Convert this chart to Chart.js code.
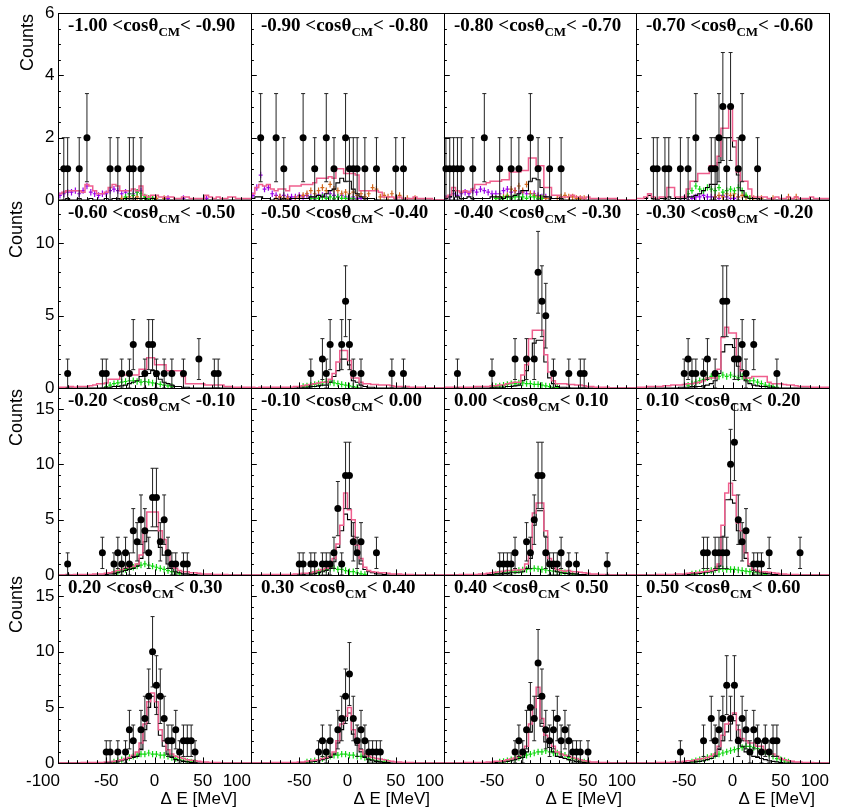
<!DOCTYPE html>
<html>
<head>
<meta charset="utf-8">
<script src="https://cdn.jsdelivr.net/npm/chart.js@4.4.0/dist/chart.umd.min.js"></script>
<style>
  body { margin: 0; background: #fff; }
  #wrap { position: relative; width: 848px; height: 809px; }
  #wrap canvas { position: absolute; left: 0; top: 0; }
</style>
</head>
<body>
<div id="wrap"></div>
<script>
/* cos(theta_CM) bin edges, one panel per bin */
const cosEdges = ["-1.00","-0.90","-0.80","-0.70","-0.60","-0.50","-0.40","-0.30","-0.20",
                  "-0.10","0.00","0.10","0.20","0.30","0.40","0.50","0.60"];

/* Delta E axis, 4 MeV bins */
const xMin = -100, xMax = 100, binW = 4;
const xTickVals = [-100, -50, 0, 50, 100];
const xTickLabels = ["-100", "-50", "0", "50", "100"];

/* y range per row */
const rowYMax = [6, 13, 16.9, 16.9];
const rowYMajor = [2, 5, 5, 5];
const rowYMinor = [0.5, 1, 1, 1];
const yTickLabels = [["0","2","4","6"], ["0","5","10"], ["0","5","10","15"], ["0","5","10","15"]];

/* data points: bin centre (MeV) and counts */
const dataX = [
  [-94,-90,-78,-70,-46,-38,-26,-22,-14],
  [-90,-74,-66,-46,-34,-22,-14,-2,2,6,10,18,30,50,58],
  [-98,-94,-90,-86,-82,-70,-58,-42,-30,-22,-10,-2,10,22],
  [-82,-78,-70,-66,-54,-46,-38,-22,-18,-14,-10,-6,-2,6,10,26],
  [-90,-54,-50,-34,-26,-22,-10,-6,-2,2,10,18,30,46,62,66],
  [-38,-26,-22,-18,-6,-2,2,6,14,46,58],
  [-86,-50,-26,-14,-6,-2,2,6,14,30,42,46],
  [-50,-46,-42,-38,-30,-26,-18,-10,-6,2,6,10,14,22,46],
  [-90,-54,-42,-38,-34,-30,-26,-22,-18,-14,-10,-6,-2,2,6,10,14,18,22,30,34],
  [-50,-46,-38,-34,-26,-22,-18,-14,-10,-6,-2,2,6,10,14,30],
  [-42,-38,-34,-30,-26,-14,-10,-6,-2,2,6,10,14,18,22,30,38,70],
  [-30,-26,-18,-14,-10,-6,-2,2,6,10,14,22,26,30,38,70],
  [-50,-46,-38,-30,-26,-22,-14,-10,-6,-2,2,6,10,14,18,22,26,30,34,38,42],
  [-30,-26,-22,-18,-10,-6,-2,2,6,10,14,18,22,26,30,34],
  [-26,-22,-18,-14,-10,-6,-2,2,6,10,14,18,22,26,30,34,38,42,50],
  [-54,-30,-22,-18,-14,-10,-6,-2,2,6,10,14,18,22,26,30,34,38,42,46]
];
const dataN = [
  [1,1,1,2,1,1,1,1,1],
  [2,2,1,2,1,2,1,2,1,1,1,1,1,1,1],
  [1,1,1,1,1,1,2,1,1,1,2,1,1,1],
  [1,1,1,1,1,1,2,1,1,2,3,1,3,1,2,1],
  [1,1,1,1,1,3,1,3,3,1,1,1,1,2,1,1],
  [1,2,1,3,3,6,3,1,1,1,1],
  [1,1,2,2,2,8,6,5,1,1,1,1],
  [1,2,1,1,1,2,1,6,6,2,2,3,1,3,1],
  [1,2,1,2,1,2,1,4,3,5,4,2,7,7,3,5,2,1,1,1,1],
  [1,1,1,1,1,1,1,2,6,1,9,9,3,2,3,2],
  [1,1,1,1,2,3,2,5,9,9,2,1,1,1,2,1,1,1],
  [2,2,2,2,2,2,10,12,5,3,4,1,1,1,2,2],
  [1,1,1,1,3,2,3,4,6,10,7,6,4,2,2,3,1,2,2,2,1],
  [1,2,1,2,3,4,6,8,4,2,3,2,1,1,1,1],
  [1,2,1,3,5,4,9,6,3,2,3,4,2,3,2,1,1,1,1],
  [1,2,4,2,3,4,7,4,7,2,4,3,1,3,2,1,2,1,2,2]
];

/* simulation histograms, 50 bins from -100 to 100 MeV */
const pinkHist = [
  [0.2,0.25,0.3,0.3,0.3,0.3,0.25,0.5,0.45,0.3, 0.2,0.2,0.25,0.4,0.5,0.45,0.3,0.3,0.3,0.35, 0.3,0.45,0.15,0.1,0.15,0.15,0.1,0.1,0.1,0.1, 0.05,0.05,0.1,0.1,0.05,0.05,0.05,0.05,0.15,0.1, 0.05,0.1,0.05,0.05,0.1,0.1,0.05,0.05,0.05,0.05],
  [0.2,0.4,0.5,0.45,0.5,0.35,0.3,0.35,0.35,0.3, 0.45,0.45,0.45,0.5,0.5,0.5,0.55,0.7,0.7,0.7, 0.75,0.7,1.0,1.0,0.85,0.85,0.85,0.8,0.3,0.3, 0.3,0.3,0.3,0.25,0.1,0.1,0.1,0.05,0.1,0.05, 0.05,0.05,0.1,0.05,0.05,0.05,0.05,0,0,0],
  [0.1,0.15,0.4,0.3,0.25,0.3,0.25,0.35,0.5,0.5, 0.5,0.55,0.6,0.6,0.6,0.65,0.65,0.9,0.9,0.9, 0.95,0.95,1.35,1.35,1.1,1.1,0.4,0.4,0.15,0.15, 0.1,0.1,0.1,0.15,0.1,0.1,0.05,0.1,0.05,0.05, 0.05,0.05,0.05,0.05,0.05,0,0,0,0,0],
  [0.05,0.05,0.1,0.2,0.1,0.05,0.1,0.1,0.4,0.4, 0.1,0.1,0.1,0.35,0.6,0.6,0.85,0.85,0.85,1.1, 1.1,1.4,2.3,2.3,3.0,1.9,0.9,0.6,0.6,0.35, 0.1,0.1,0.1,0.1,0.05,0.05,0.1,0.05,0.05,0.1, 0.05,0.1,0.05,0.05,0.05,0.1,0.05,0.05,0.05,0.05],
  [0.05,0.05,0.05,0.1,0.05,0.1,0.1,0.1,0.15,0.2, 0.3,0.3,0.35,0.6,0.6,0.6,0.9,0.9,0.9,0.9, 0.9,1.3,1.3,2.1,2.1,1.6,1.6,1.6,1.2,1.2, 1.2,1.2,0.8,0.3,0.3,0.3,0.3,0.3,0.2,0.2, 0.2,0.2,0.2,0.1,0.1,0.05,0.05,0.05,0.05,0.05],
  [0.05,0,0.05,0.05,0.05,0.05,0.05,0.05,0.05,0.05, 0.05,0.1,0.1,0.15,0.2,0.25,0.3,0.35,0.4,0.4, 0.6,1.0,1.8,2.6,2.6,1.9,0.7,0.7,0.4,0.3, 0.3,0.25,0.25,0.2,0.2,0.2,0.15,0.1,0.1,0.1, 0.1,0.05,0.05,0.05,0.05,0,0,0,0,0],
  [0.05,0.05,0.05,0.05,0.05,0.05,0.05,0.05,0.1,0.1, 0.1,0.1,0.15,0.15,0.2,0.2,0.3,0.35,0.4,0.4, 0.9,1.6,3.4,4.0,4.0,4.0,2.3,1.1,0.5,0.3, 0.3,0.3,0.25,0.25,0.2,0.2,0.15,0.1,0.1,0.05, 0.05,0.05,0.05,0,0,0,0,0,0,0],
  [0.05,0.05,0.05,0.1,0.1,0.1,0.1,0.15,0.15,0.2, 0.2,0.2,0.25,0.3,0.3,0.35,0.4,0.5,0.7,0.7, 0.7,1.3,3.5,4.2,3.8,3.8,2.0,1.2,0.7,0.7, 0.8,0.8,0.8,0.8,0.4,0.3,0.3,0.3,0.25,0.2, 0.2,0.15,0.1,0.1,0.1,0.05,0.05,0.05,0.05,0.05],
  [0,0,0.05,0,0.05,0.05,0.05,0.05,0.05,0.1, 0.1,0.1,0.15,0.2,0.3,0.4,0.5,0.6,0.7,0.8, 1.0,1.8,3.8,5.7,5.7,5.7,4.0,3.2,2.0,1.2, 0.6,0.4,0.3,0.3,0.2,0.2,0.15,0.1,0.1,0.1, 0.05,0.05,0.05,0.05,0,0,0,0,0,0],
  [0,0,0,0.05,0.05,0.05,0.05,0.05,0.05,0.05, 0.05,0.1,0.1,0.15,0.15,0.2,0.3,0.4,0.5,0.6, 0.8,1.5,2.8,4.5,7.4,5.9,5.0,2.7,1.5,0.7, 0.4,0.3,0.25,0.2,0.2,0.15,0.1,0.1,0.1,0.05, 0.05,0.05,0,0,0,0,0,0,0,0],
  [0,0,0,0,0.05,0.05,0.05,0.05,0.05,0.1, 0.1,0.15,0.2,0.25,0.3,0.35,0.4,0.4,0.45,0.45, 0.5,1.0,2.0,5.6,6.5,6.5,4.0,1.5,0.8,0.5, 0.4,0.35,0.4,0.3,0.3,0.25,0.2,0.15,0.1,0.1, 0.05,0.05,0.05,0,0,0,0,0,0,0],
  [0,0,0,0,0,0.05,0.05,0.05,0.05,0.05, 0.1,0.1,0.1,0.15,0.2,0.2,0.25,0.3,0.35,0.4, 0.5,1.0,4.5,7.4,8.3,7.2,4.7,4.0,2.0,1.0, 0.5,0.4,0.3,0.3,0.25,0.2,0.15,0.1,0.1,0.05, 0.05,0.05,0,0,0,0,0,0,0,0],
  [0,0,0,0,0,0,0.05,0.05,0.05,0.05, 0.05,0.05,0.1,0.1,0.15,0.2,0.3,0.4,0.5,0.7, 1.0,1.8,3.5,5.5,6.3,5.5,3.0,2.0,1.2,0.8, 0.6,0.5,0.4,0.3,0.25,0.2,0.15,0.1,0.1,0.05, 0.05,0.05,0,0,0,0,0,0,0,0],
  [0,0,0,0,0,0.05,0.05,0.05,0.05,0.05, 0.05,0.05,0.1,0.1,0.15,0.2,0.25,0.3,0.4,0.5, 0.6,1.0,2.0,3.5,4.2,5.0,3.0,2.0,1.2,0.8, 0.6,0.5,0.4,0.35,0.3,0.2,0.15,0.1,0.1,0.05, 0.05,0.05,0,0,0,0,0,0,0,0],
  [0,0,0,0,0,0.05,0.05,0.05,0.05,0.05, 0.05,0.1,0.1,0.15,0.15,0.2,0.3,0.35,0.45,0.6, 0.8,1.5,3.5,5.0,6.8,4.0,2.5,2.0,1.5,1.0, 0.8,0.7,0.6,0.5,0.4,0.3,0.2,0.15,0.1,0.1, 0.05,0.05,0.05,0,0,0,0,0,0,0],
  [0,0,0,0,0,0.05,0.05,0.05,0.05,0.1, 0.1,0.1,0.15,0.2,0.2,0.3,0.35,0.4,0.5,0.6, 0.8,1.5,2.5,3.5,4.2,4.5,3.0,2.2,2.0,1.8, 1.8,1.5,1.5,1.2,1.0,0.8,0.6,0.4,0.3,0.2, 0.15,0.1,0.1,0.05,0.05,0.05,0,0,0,0]
];

const blackHist = [
  [0,0,0.05,0,0,0.05,0,0,0.05,0, 0,0,0.05,0,0.05,0.05,0,0.05,0.05,0.05, 0.05,0.05,0.05,0,0.05,0,0,0,0,0, 0,0,0,0,0,0,0,0,0,0, 0,0,0,0,0,0,0,0,0,0],
  [0.05,0.1,0.1,0.05,0.05,0,0.05,0,0.05,0, 0.05,0.05,0.05,0.05,0.05,0.1,0.1,0.15,0.1,0.2, 0.3,0.35,0.55,0.7,0.6,0.6,0.35,0.2,0.1,0.05, 0.05,0.05,0,0,0,0,0,0,0,0, 0,0,0,0,0,0,0,0,0,0],
  [0.05,0.1,0.3,0.1,0.05,0.05,0.1,0.05,0.05,0.05, 0.05,0.05,0.1,0.1,0.1,0.05,0.1,0.1,0.15,0.2, 0.3,0.3,0.6,0.7,0.65,0.4,0.1,0.1,0.05,0.05, 0.05,0,0,0,0,0,0,0,0,0, 0,0,0,0,0,0,0,0,0,0],
  [0.05,0.05,0.05,0.15,0.05,0,0.05,0.05,0.1,0.05, 0.05,0.05,0.05,0.1,0.1,0.15,0.2,0.3,0.4,0.5, 0.5,1.2,2.0,2.0,2.0,1.7,0.8,0.3,0.1,0.05, 0.05,0.05,0,0,0,0,0,0,0,0, 0,0,0,0,0,0,0,0,0,0],
  [0,0,0,0,0,0,0,0,0,0, 0,0,0.05,0.05,0.1,0.1,0.15,0.2,0.3,0.4, 0.5,0.8,0.9,1.0,1.2,0.8,0.6,0.4,0.3,0.2, 0.1,0.1,0.05,0.05,0,0,0,0,0,0, 0,0,0,0,0,0,0,0,0,0],
  [0,0,0,0,0,0,0,0,0,0, 0,0,0.05,0.05,0.05,0.1,0.1,0.15,0.2,0.2, 0.4,0.8,1.2,2.0,2.0,1.6,0.5,0.4,0.2,0.1, 0.05,0.05,0,0,0,0,0,0,0,0, 0,0,0,0,0,0,0,0,0,0],
  [0,0,0,0,0,0,0,0,0,0, 0,0,0.05,0.05,0.05,0.05,0.1,0.1,0.15,0.2, 0.5,1.2,2.0,3.1,3.3,3.3,1.8,0.7,0.3,0.1, 0.05,0.05,0,0,0,0,0,0,0,0, 0,0,0,0,0,0,0,0,0,0],
  [0,0,0,0,0,0,0,0,0,0, 0,0.05,0.05,0.05,0.1,0.1,0.1,0.15,0.2,0.3, 0.5,1.0,2.5,3.0,3.0,2.8,1.5,0.8,0.5,0.3, 0.2,0.15,0.1,0.1,0.05,0.05,0,0,0,0, 0,0,0,0,0,0,0,0,0,0],
  [0,0,0,0,0,0,0,0,0,0, 0,0,0.05,0.1,0.15,0.2,0.3,0.4,0.5,0.6, 0.8,1.5,3.0,4.0,4.0,4.0,2.5,1.8,1.0,0.6, 0.3,0.2,0.1,0.1,0.05,0.05,0,0,0,0, 0,0,0,0,0,0,0,0,0,0],
  [0,0,0,0,0,0,0,0,0,0, 0,0,0.05,0.05,0.1,0.1,0.15,0.2,0.3,0.4, 0.6,1.2,2.5,4.0,5.5,5.0,3.5,2.0,1.0,0.5, 0.3,0.2,0.1,0.1,0.05,0,0,0,0,0, 0,0,0,0,0,0,0,0,0,0],
  [0,0,0,0,0,0,0,0,0,0, 0,0.05,0.05,0.1,0.1,0.15,0.15,0.2,0.2,0.25, 0.3,0.6,1.5,4.5,5.8,5.8,3.5,1.2,0.6,0.3, 0.2,0.15,0.15,0.1,0.1,0.05,0.05,0,0,0, 0,0,0,0,0,0,0,0,0,0],
  [0,0,0,0,0,0,0,0,0,0, 0,0,0.05,0.05,0.1,0.1,0.15,0.2,0.25,0.3, 0.4,0.8,3.5,6.8,6.8,6.5,4.0,3.0,1.5,0.8, 0.4,0.3,0.2,0.15,0.1,0.05,0.05,0,0,0, 0,0,0,0,0,0,0,0,0,0],
  [0,0,0,0,0,0,0,0,0,0, 0,0,0.05,0.05,0.1,0.15,0.2,0.3,0.4,0.5, 0.6,1.2,3.0,5.0,6.0,5.0,2.5,1.5,0.8,0.5, 0.3,0.2,0.15,0.1,0.05,0.05,0,0,0,0, 0,0,0,0,0,0,0,0,0,0],
  [0,0,0,0,0,0,0,0,0,0, 0,0,0.05,0.05,0.1,0.1,0.15,0.2,0.3,0.4, 0.5,0.8,1.8,3.0,3.8,4.5,2.6,1.6,1.0,0.5, 0.3,0.2,0.15,0.1,0.05,0.05,0,0,0,0, 0,0,0,0,0,0,0,0,0,0],
  [0,0,0,0,0,0,0,0,0,0, 0,0,0.05,0.05,0.1,0.1,0.15,0.2,0.3,0.4, 0.5,1.0,2.8,4.2,5.8,3.3,1.9,1.4,1.0,0.6, 0.5,0.4,0.3,0.2,0.15,0.1,0.05,0,0,0, 0,0,0,0,0,0,0,0,0,0],
  [0,0,0,0,0,0,0,0,0,0, 0,0,0.05,0.05,0.1,0.1,0.15,0.2,0.3,0.4, 0.6,1.2,2.0,2.8,3.5,3.8,2.3,1.5,1.0,0.8, 0.6,0.5,0.4,0.3,0.2,0.15,0.1,0.05,0,0, 0,0,0,0,0,0,0,0,0,0]
];

const greenHist = [
  [0,0,0,0,0,0,0,0,0,0, 0,0,0,0,0,0,0,0.1,0.2,0.15, 0.25,0.2,0.1,0.05,0.05,0,0,0,0,0, 0,0,0,0,0,0,0,0,0,0, 0,0,0,0,0,0,0,0,0,0],
  [0,0,0,0,0,0,0,0,0,0, 0,0,0,0,0,0.05,0.05,0.05,0.1,0.05, 0.1,0.05,0.1,0.05,0.05,0.05,0.05,0,0,0, 0,0,0,0,0,0,0,0,0,0, 0,0,0,0,0,0,0,0,0,0],
  [0,0,0,0,0,0,0,0,0,0, 0,0,0,0.05,0.05,0.05,0.1,0.05,0.1,0.1, 0.1,0.05,0.1,0.1,0.05,0.05,0,0,0,0, 0,0,0,0,0,0,0,0,0,0, 0,0,0,0,0,0,0,0,0,0],
  [0,0,0,0,0,0,0,0,0,0, 0,0,0,0.2,0.3,0.45,0.35,0.3,0.4,0.35, 0.3,0.4,0.25,0.3,0.35,0.3,0.4,0.3,0.15,0.05, 0,0,0,0,0,0,0,0,0,0, 0,0,0,0,0,0,0,0,0,0],
  [0,0,0,0,0,0,0,0,0,0, 0,0,0.1,0.2,0.3,0.35,0.4,0.45,0.5,0.5, 0.45,0.4,0.45,0.4,0.35,0.3,0.25,0.2,0.15,0.1, 0,0,0,0,0,0,0,0,0,0, 0,0,0,0,0,0,0,0,0,0],
  [0,0,0,0,0,0,0,0,0,0, 0,0,0,0.1,0.15,0.2,0.25,0.3,0.35,0.45, 0.4,0.35,0.3,0.25,0.2,0.15,0.1,0.05,0,0, 0,0,0,0,0,0,0,0,0,0, 0,0,0,0,0,0,0,0,0,0],
  [0,0,0,0,0,0,0,0,0,0, 0,0,0.05,0.1,0.15,0.2,0.25,0.3,0.3,0.35, 0.35,0.3,0.3,0.25,0.25,0.2,0.15,0.1,0.05,0.05, 0,0,0,0,0,0,0,0,0,0, 0,0,0,0,0,0,0,0,0,0],
  [0,0,0,0,0,0,0,0,0,0, 0,0,0,0.2,0.3,0.4,0.5,0.6,0.7,0.8, 0.9,0.8,0.9,0.8,0.9,0.8,0.7,0.8,0.6,0.5, 0.5,0.4,0.3,0.2,0.15,0.1,0.05,0,0,0, 0,0,0,0,0,0,0,0,0,0],
  [0,0,0,0,0,0,0,0,0,0, 0,0,0,0,0.2,0.3,0.4,0.5,0.6,0.7, 0.8,0.9,1.0,0.9,0.8,0.7,0.6,0.5,0.4,0.3, 0.2,0.1,0,0,0,0,0,0,0,0, 0,0,0,0,0,0,0,0,0,0],
  [0,0,0,0,0,0,0,0,0,0, 0,0,0,0,0,0.1,0.2,0.3,0.4,0.5, 0.6,0.6,0.5,0.5,0.4,0.3,0.3,0.2,0.1,0.05, 0,0,0,0,0,0,0,0,0,0, 0,0,0,0,0,0,0,0,0,0],
  [0,0,0,0,0,0,0,0,0,0, 0,0,0,0.1,0.15,0.2,0.25,0.3,0.35,0.4, 0.45,0.5,0.55,0.6,0.55,0.5,0.45,0.4,0.35,0.3, 0.25,0.2,0.15,0.1,0.05,0,0,0,0,0, 0,0,0,0,0,0,0,0,0,0],
  [0,0,0,0,0,0,0,0,0,0, 0,0,0,0,0.1,0.15,0.2,0.3,0.35,0.4, 0.5,0.5,0.55,0.5,0.5,0.5,0.45,0.4,0.35,0.3, 0.25,0.2,0.1,0.05,0,0,0,0,0,0, 0,0,0,0,0,0,0,0,0,0],
  [0,0,0,0,0,0,0,0,0,0, 0,0,0,0,0.1,0.2,0.3,0.4,0.5,0.6, 0.7,0.8,0.8,0.9,0.8,0.8,0.7,0.7,0.6,0.5, 0.4,0.3,0.2,0.15,0.1,0.05,0,0,0,0, 0,0,0,0,0,0,0,0,0,0],
  [0,0,0,0,0,0,0,0,0,0, 0,0,0,0,0.1,0.15,0.2,0.3,0.4,0.5, 0.6,0.7,0.7,0.8,0.8,0.7,0.7,0.6,0.6,0.5, 0.4,0.3,0.2,0.15,0.1,0.05,0,0,0,0, 0,0,0,0,0,0,0,0,0,0],
  [0,0,0,0,0,0,0,0,0,0, 0,0,0,0,0.1,0.15,0.2,0.3,0.4,0.5, 0.6,0.7,0.8,0.9,1.0,1.0,1.1,1.0,0.9,0.9, 0.8,0.7,0.5,0.4,0.3,0.2,0.1,0.05,0,0, 0,0,0,0,0,0,0,0,0,0],
  [0,0,0,0,0,0,0,0,0,0, 0,0,0,0,0.1,0.2,0.3,0.4,0.5,0.6, 0.7,0.8,0.9,1.0,1.1,1.2,1.3,1.4,1.5,1.5, 1.4,1.3,1.2,1.0,0.8,0.6,0.4,0.3,0.2,0.1, 0,0,0,0,0,0,0,0,0,0]
];

/* smaller background components, visible only in the first row */
const purpleHist = [
  [0.15,0.2,0.25,0.25,0.3,0.2,0.3,0.45,0.25,0.2, 0.15,0.2,0.2,0.3,0.35,0.3,0.2,0.25,0.2,0.2, 0.25,0.3,0.05,0,0.05,0,0,0,0.05,0, 0,0,0.05,0,0,0,0,0,0.05,0, 0,0,0,0,0,0,0,0,0,0],
  [0.15,0.4,0.8,0.35,0.4,0.2,0.15,0.1,0.15,0.1, 0.1,0.1,0.15,0.1,0.15,0.1,0.1,0.15,0.15,0.1, 0.2,0.15,0.1,0.15,0.1,0.05,0.1,0.05,0.05,0, 0,0,0,0,0,0,0,0,0,0, 0,0,0,0,0,0,0,0,0,0],
  [0.05,0.1,0.2,0.15,0.2,0.25,0.2,0.3,0.25,0.35, 0.3,0.25,0.2,0.2,0.2,0.3,0.35,0.25,0.3,0.2, 0.25,0.2,0.2,0.2,0.15,0.1,0.1,0,0,0, 0,0,0,0,0,0,0,0,0,0, 0,0,0,0,0,0,0,0,0,0],
  [0,0,0,0,0,0,0,0,0,0, 0,0,0.05,0.1,0.05,0.1,0.1,0.15,0.1,0.1, 0.1,0.05,0.15,0.1,0.05,0.05,0.1,0,0,0, 0,0,0,0,0,0,0,0,0,0, 0,0,0,0,0,0,0,0,0,0]
];
const orangeHist = [
  [0,0,0,0,0,0,0,0,0,0, 0,0,0,0,0,0,0.05,0.05,0.1,0.05, 0.1,0.05,0.05,0.05,0.05,0.05,0,0.05,0,0, 0,0,0,0,0,0,0,0,0,0, 0,0,0,0,0,0,0,0,0,0],
  [0,0,0,0,0,0,0.05,0.1,0.05,0.05, 0,0.05,0.1,0.15,0.2,0.3,0.2,0.3,0.4,0.3, 0.5,0.35,0.3,0.2,0.25,0.2,0.25,0.15,0.2,0.1, 0.2,0.4,0.35,0.1,0.15,0.1,0.2,0.05,0.15,0.05, 0.05,0,0.05,0,0,0,0,0,0,0],
  [0,0,0,0,0,0,0,0,0,0, 0,0,0,0.05,0.1,0.1,0.15,0.35,0.3,0.45, 0.3,0.5,0.2,0.15,0.1,0.05,0.05,0.05,0,0.05, 0.1,0.15,0.1,0.1,0.05,0.05,0.05,0,0,0, 0,0,0,0,0,0,0,0,0,0],
  [0,0,0,0,0,0,0,0,0,0, 0,0,0,0,0,0,0,0,0,0, 0.1,0.15,0.1,0.2,0.15,0.2,0.1,0.15,0.1,0.05, 0.05,0.05,0.05,0,0,0.05,0,0,0,0.1, 0,0.1,0,0,0,0,0,0,0,0]
];

/* panel grid in page pixels */
const colEdges = [58, 251, 444, 636, 829];
const rowEdges = [13, 200, 388, 575, 763];
const PAGE_W = 848, PAGE_H = 809;

const labelFont = '17px "Liberation Sans", Arial, sans-serif';
const titleFont = 'bold 19px "Liberation Serif", "Times New Roman", serif';
const subFont = 'bold 13px "Liberation Serif", "Times New Roman", serif';


/* ROOT-like frame, inward ticks, labels, panel title, cross markers, error bars */
const rootPanel = {
  id: "rootPanel",

  beforeDatasetsDraw(chart) {
    const o = chart.options.plugins.rootPanel;
    const { ctx, chartArea: a, scales: { x, y } } = chart;
    ctx.save();
    ctx.beginPath();
    ctx.rect(a.left, a.top, a.right - a.left, a.bottom - a.top);
    ctx.clip();
    ctx.lineWidth = 1.2;
    const k = o.panel;
    const crosses = [
      { color: "#9b00e8", values: purpleHist[k] || [] },
      { color: "#d2691e", values: orangeHist[k] || [] },
      { color: "#10d810", values: greenHist[k] || [] }
    ];
    crosses.forEach(c => {
      ctx.strokeStyle = c.color;
      c.values.forEach((v, i) => {
        if (!v) return;
        const x0 = x.getPixelForValue(xMin + i * binW);
        const x1 = x.getPixelForValue(xMin + (i + 1) * binW);
        const xm = (x0 + x1) / 2;
        const py = y.getPixelForValue(v);
        ctx.beginPath();
        ctx.moveTo(x0, py); ctx.lineTo(x1, py);
        ctx.moveTo(xm, py - 3.2); ctx.lineTo(xm, py + 3.2);
        ctx.stroke();
      });
    });
    ctx.restore();
  },

  beforeDatasetDraw(chart, args) {
    if (args.index !== 0) return;
    const { ctx, scales: { y } } = chart;
    const ds = chart.data.datasets[0];
    ctx.save();
    ctx.strokeStyle = "#222";
    ctx.lineWidth = 1;
    args.meta.data.forEach((pt, i) => {
      const n = ds.data[i].y, e = Math.sqrt(n);
      const yHi = y.getPixelForValue(n + e);
      const yLo = y.getPixelForValue(n - e);
      ctx.beginPath();
      ctx.moveTo(pt.x, yHi); ctx.lineTo(pt.x, yLo);
      ctx.moveTo(pt.x - 2, yHi); ctx.lineTo(pt.x + 2, yHi);
      ctx.moveTo(pt.x - 2, yLo); ctx.lineTo(pt.x + 2, yLo);
      ctx.stroke();
    });
    ctx.restore();
  },

  afterDraw(chart) {
    const o = chart.options.plugins.rootPanel;
    const { ctx, chartArea: a, scales: { x, y } } = chart;
    const r = o.row, c = o.col;
    ctx.save();

    // frame
    ctx.strokeStyle = "#000";
    ctx.lineWidth = 1;
    ctx.strokeRect(a.left + 0.5, a.top + 0.5, a.right - a.left, a.bottom - a.top);

    // y ticks, drawn inward
    ctx.beginPath();
    const yMinorStep = rowYMinor[r], yMajorStep = rowYMajor[r];
    for (let v = 0; v <= rowYMax[r] + 1e-6; v += yMinorStep) {
      const py = Math.round(y.getPixelForValue(v)) + 0.5;
      const major = Math.abs(v / yMajorStep - Math.round(v / yMajorStep)) < 1e-6;
      ctx.moveTo(a.left, py);
      ctx.lineTo(a.left + (major ? 5.8 : 2.9), py);
    }
    // x ticks, drawn inward
    for (let v = xMin; v <= xMax; v += 10) {
      const px = Math.round(x.getPixelForValue(v)) + 0.5;
      const major = v % 50 === 0;
      ctx.moveTo(px, a.bottom);
      ctx.lineTo(px, a.bottom - (major ? 5.6 : 2.8));
    }
    ctx.stroke();

    ctx.fillStyle = "#000";

    // y labels + axis title on the left column
    if (c === 0) {
      ctx.font = labelFont;
      ctx.textAlign = "right";
      ctx.textBaseline = "middle";
      yTickLabels[r].forEach(t => {
        ctx.fillText(t, a.left - 3.5, y.getPixelForValue(Number(t)));
      });
      ctx.save();
      ctx.font = '18px "Liberation Sans", Arial, sans-serif';
      ctx.translate(r === 0 ? 28 : 17.5, a.top + 1);
      ctx.rotate(-Math.PI / 2);
      ctx.textAlign = "right";
      ctx.textBaseline = "middle";
      ctx.fillText("Counts", 0, 0);
      ctx.restore();
    }

    // x labels + axis title on the bottom row; edge labels pulled inward like ROOT does
    if (r === 3) {
      ctx.font = labelFont;
      ctx.textBaseline = "middle";
      xTickVals.forEach((v, i) => {
        if (c > 0 && i === 0) return;
        const px = x.getPixelForValue(v);
        if (i === 0) {
          ctx.textAlign = "right";
          ctx.fillText(xTickLabels[i], px + 2, 781);
        } else if (i === xTickVals.length - 1) {
          ctx.textAlign = "right";
          ctx.fillText(xTickLabels[i], px, 781);
        } else {
          ctx.textAlign = "center";
          ctx.fillText(xTickLabels[i], px, 781);
        }
      });
      ctx.textAlign = "right";
      ctx.fillText("\u0394 E [MeV]", a.right - 14, 799);
    }

    // panel title
    const k = o.panel;
    let tx = a.left + 10;
    const ty = a.top + 18;
    ctx.textAlign = "left";
    ctx.textBaseline = "alphabetic";
    ctx.font = titleFont;
    const s1 = cosEdges[k] + " <cos\u03B8";
    ctx.fillText(s1, tx, ty);
    tx += ctx.measureText(s1).width;
    ctx.font = subFont;
    ctx.fillText("CM", tx, ty + 5);
    tx += ctx.measureText("CM").width;
    ctx.font = titleFont;
    ctx.fillText("< " + cosEdges[k + 1], tx, ty);

    ctx.restore();
  }
};


function histPoints(vals) {
  const pts = vals.map((v, i) => ({ x: xMin + i * binW, y: v }));
  pts.push({ x: xMax, y: vals[vals.length - 1] });
  return pts;
}


/* Build panels */
const wrap = document.getElementById("wrap");

for (let k = 0; k < 16; k++) {
  const r = Math.floor(k / 4), c = k % 4;
  const canvas = document.createElement("canvas");
  canvas.width = PAGE_W;
  canvas.height = PAGE_H;
  wrap.appendChild(canvas);

  const points = dataX[k].map((xv, i) => ({ x: xv, y: dataN[k][i] }));

  new Chart(canvas, {
    type: "scatter",
    data: {
      datasets: [
        {
          data: points,
          pointRadius: 3.5,
          pointBackgroundColor: "#000",
          pointBorderWidth: 0,
          showLine: false,
          clip: false
        },
        {
          type: "line",
          data: histPoints(pinkHist[k]),
          borderColor: "#ef5f8e",
          borderWidth: 1.5,
          pointRadius: 0,
          stepped: true,
          fill: false
        },
        {
          type: "line",
          data: histPoints(blackHist[k]),
          borderColor: "#000",
          borderWidth: 1.1,
          pointRadius: 0,
          stepped: true,
          fill: false
        }
      ]
    },
    options: {
      responsive: false,
      animation: false,
      devicePixelRatio: 1,
      events: [],
      layout: {
        padding: {
          left: colEdges[c],
          right: PAGE_W - colEdges[c + 1],
          top: rowEdges[r],
          bottom: PAGE_H - rowEdges[r + 1]
        }
      },
      scales: {
        x: { type: "linear", min: xMin, max: xMax, display: false },
        y: { type: "linear", min: 0, max: rowYMax[r], display: false }
      },
      plugins: {
        legend: { display: false },
        tooltip: { enabled: false },
        rootPanel: { row: r, col: c, panel: k }
      }
    },
    plugins: [rootPanel]
  });
}
</script>
</body>
</html>
